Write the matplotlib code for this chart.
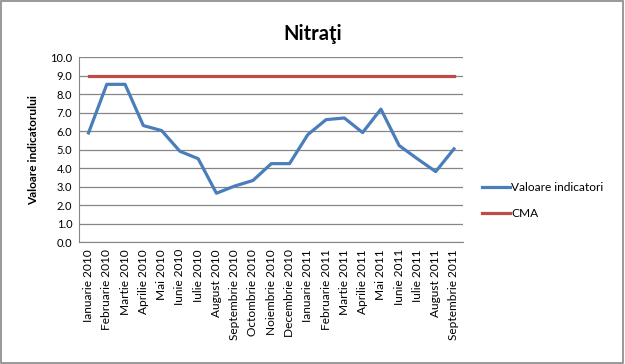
import matplotlib
matplotlib.use("Agg")
import matplotlib.pyplot as plt
from matplotlib.patches import Rectangle

plt.rcParams['font.family'] = ['Lato', 'DejaVu Sans']

months = ["Ianuarie 2010", "Februarie 2010", "Martie 2010", "Aprilie 2010", "Mai 2010",
          "Iunie 2010", "Iulie 2010", "August 2010", "Septembrie 2010", "Octombrie 2010",
          "Noiembrie 2010", "Decembrie 2010", "Ianuarie 2011", "Februarie 2011", "Martie 2011",
          "Aprilie 2011", "Mai 2011", "Iunie 2011", "Iulie 2011", "August 2011", "Septembrie 2011"]
valoare = [5.9, 8.53, 8.53, 6.3, 6.03, 4.91, 4.51, 2.64, 3.03, 3.33, 4.24,
           4.24, 5.81, 6.62, 6.71, 5.92, 7.19, 5.22, 4.5, 3.81, 5.04]
cma = [9.0] * len(months)
yticks = [0, 1, 2, 3, 4, 5, 6, 7, 8, 9, 10]

fig = plt.figure(figsize=(6.25, 3.64), dpi=100)
# chenarul exterior
fig.patches.append(Rectangle((0.002, 0.003), 0.995, 0.993, transform=fig.transFigure,
                             fill=False, edgecolor='#888888', linewidth=1.2))

ax = fig.add_axes([0.127, 0.335, 0.614, 0.508])
x = list(range(len(months)))
ax.plot(x, valoare, color='#4a7ebb', linewidth=2.3, label='Valoare indicatori')
ax.plot(x, cma, color='#be4b48', linewidth=2.3, label='CMA')

ax.set_xlim(-0.5, len(months) - 0.5)
ax.set_ylim(0, 10)
ax.set_yticks(yticks)
ax.set_yticklabels([f"{v:.1f}" for v in yticks], fontsize=8)
ax.set_xticks(x)
ax.set_xticklabels(months, rotation=90, fontsize=8.6)
ax.tick_params(axis='both', length=0, pad=5)
ax.grid(axis='y', color='#868686', linewidth=0.9)
ax.set_axisbelow(True)
for side in ['top', 'right']:
    ax.spines[side].set_visible(False)
ax.spines['left'].set_color('#868686')
ax.spines['bottom'].set_color('#868686')

ax.set_ylabel('Valoare indicatorului', fontsize=8.6, fontweight='bold', labelpad=8)
fig.suptitle('Nitraţi', x=0.5, y=0.935, fontsize=14.5, fontweight='bold')

ax.legend(loc='center left', bbox_to_anchor=(1.02, 0.225), frameon=False, fontsize=8.6,
          handlelength=2.4, handletextpad=0.1, labelspacing=1.3)

fig.savefig('out.png', dpi=100)
